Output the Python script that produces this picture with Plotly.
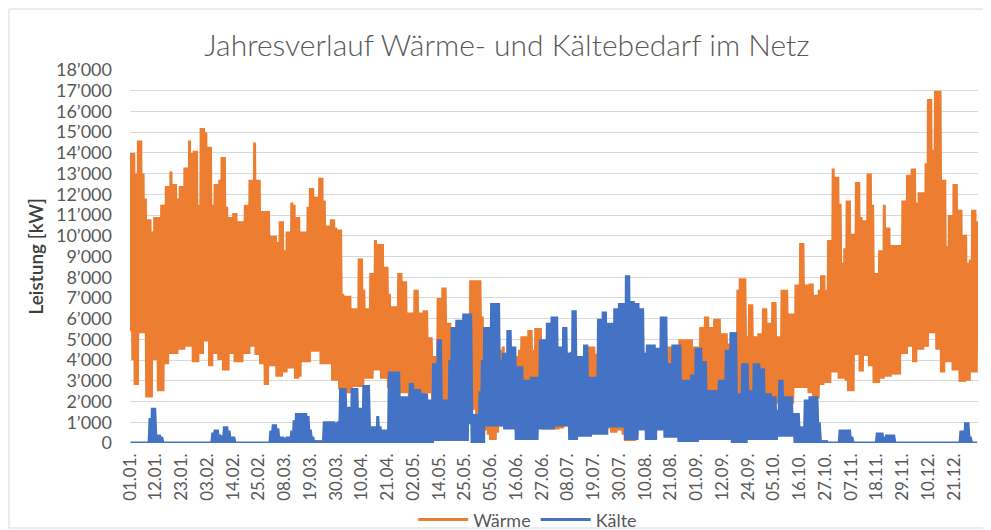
import plotly.graph_objects as go

# ---- data: daily extremes (kW), index = day of year (0 = 01.01.) ----
waerme_max = [
    14000,14000,13000,14600,14600,13000,11800,10800,10800,10200,
    10900,10900,10900,11500,11500,12400,12400,13100,12500,12500,
    11800,12400,12400,13300,13300,14600,14000,14100,14100,11500,
    15200,15200,15000,14300,14300,11500,12500,12500,12700,13800,
    13800,11400,10900,10900,11100,11100,10700,10700,10700,11500,
    11500,12700,12700,14500,12700,12700,11200,11200,11200,11200,
    10000,10000,10000,9700,10700,10700,9300,10200,10200,11600,
    11500,10900,10900,10200,10200,10200,11400,12300,12300,11900,
    11900,12800,12800,11700,10500,10500,10800,10800,10400,10300,
    10300,7200,7100,7100,7100,6500,6500,6500,8900,8900,
    7400,6500,6500,8200,8200,9800,9600,9600,9600,8500,
    8500,7200,6600,6600,6600,8200,8200,7800,7800,6300,
    6300,6300,7400,7400,6300,6300,6400,6400,5100,5100,
    4200,4200,7000,7000,7500,7500,5800,5800,5600,5000,
    4500,4500,4500,4000,4000,4000,7850,7850,7850,7850,
    7850,6100,4500,4200,4200,4000,4000,4300,4300,4500,
    4650,4300,4000,4000,4000,4200,4200,4500,5150,5150,
    5150,5450,5450,4500,5550,5550,5550,4800,4800,4500,
    4500,4600,4600,4300,4300,4500,4500,4200,4200,4400,
    4400,4000,4000,4200,4200,4400,4650,4650,4650,4650,
    4300,4000,4000,4000,4000,4200,4200,4000,4000,4000,
    4000,3800,3800,3800,3500,3500,3500,3500,3500,3500,
    3500,3800,3800,4000,4000,4000,4000,4200,4200,4300,
    4500,4650,4650,4500,4500,4500,5000,5000,5000,5000,
    5000,5000,4650,4650,4650,5600,5600,6100,6100,5600,
    5600,6000,6000,6000,5300,5300,5300,4800,4800,4800,
    4800,7400,7950,7950,7950,5150,6700,6700,5150,5150,
    5300,5300,6500,6500,5800,5800,6800,6800,5150,5150,
    7400,7400,7400,6250,6250,6250,7650,7650,9650,9650,
    7650,7650,7700,7700,7150,7150,7400,8100,8100,7400,
    9800,9800,13250,12850,12850,11550,8700,9400,11700,11700,
    10100,10100,12600,12600,10900,10750,10750,13000,13000,11500,
    8200,8200,9300,9300,11500,10400,10400,9550,9550,9550,
    9550,9550,11700,11700,12950,12950,13250,13250,11600,12100,
    12100,12100,13500,16600,16600,14150,17000,17000,17000,12700,
    12700,9500,11000,11000,12500,12500,11250,11250,10050,10050,
    8700,8850,11250,11250,10700,
]

waerme_min = [
    5400,4000,2800,2800,5300,5300,5300,2200,2200,2200,
    4000,4000,2500,2500,2500,3800,3800,4300,4300,4300,
    4300,4500,4500,4500,4650,4650,4650,3900,3900,3900,
    4300,4300,4900,4900,3700,3700,4300,4300,4000,4000,
    3500,3500,3500,4300,4300,3900,3900,3900,3900,4300,
    4300,4300,4650,4650,4250,4250,3800,3800,2800,2800,
    3700,3700,3700,3200,3200,3200,3400,3400,3600,3600,
    3600,3100,3100,3200,3900,3900,3900,3900,4400,4400,
    4400,4400,3800,3800,3800,3800,3800,3000,3000,3000,
    2600,2600,2600,2400,2400,2400,2700,2700,2700,2700,
    2700,3100,3100,3100,3100,3500,3500,3500,3100,3100,
    3100,2650,2650,2650,2650,2650,2400,2400,2400,2400,
    2250,2250,2250,2250,1900,1900,1900,2400,2400,2400,
    2000,1000,1000,1000,1000,1200,1600,1600,1600,650,
    650,650,650,600,650,650,1600,1600,1600,900,
    900,700,700,600,400,150,150,150,500,800,
    800,800,800,800,800,900,900,1000,1000,900,
    900,1000,1000,900,900,800,800,700,650,650,
    650,650,650,650,650,700,700,800,800,800,
    800,800,800,800,800,800,800,800,800,800,
    800,800,650,650,650,650,700,500,500,500,
    600,600,400,100,100,100,100,100,300,1100,
    1000,800,800,800,800,800,800,800,800,1000,
    1000,1000,1000,1100,1100,1200,1200,1200,1200,1200,
    1200,1200,1200,1200,1200,1500,1500,1500,1500,1500,
    1500,1500,1500,1500,1500,1500,1500,1500,1500,1500,
    1500,1500,1500,1500,1500,1500,1500,1500,1500,1700,
    1700,1700,1700,1700,1700,1700,1900,1900,1900,1900,
    1900,1900,1900,1900,1900,1900,2650,2650,2650,2650,
    2650,2650,2400,2400,2150,2150,2150,2800,2800,2900,
    2900,2900,3400,3400,3400,3100,3100,3100,3000,2500,
    2500,2500,4250,4250,3450,3450,4200,4200,3700,3700,
    2900,2900,2900,3100,3100,3200,3200,3200,3300,3300,
    3300,3300,4300,4300,4300,4650,4650,3900,3900,4500,
    4500,4500,4650,4650,5300,5300,5300,4500,4500,3400,
    3400,3900,3900,3900,3500,3500,3500,2950,2950,2950,
    3000,3000,3400,3400,3400,
]

kaelte_max = [
    0,0,0,0,0,0,0,0,1200,1700,
    1700,400,400,300,0,0,0,0,0,0,
    0,0,0,0,0,0,0,0,0,0,
    0,0,0,0,0,500,650,650,400,350,
    800,800,600,300,300,0,0,0,0,0,
    0,0,0,0,0,0,0,0,0,0,
    600,900,900,700,300,300,250,300,300,600,
    1100,1450,1450,1450,1450,1450,1300,650,300,100,
    100,100,100,1050,1050,1050,1050,1050,1000,1050,
    2650,2650,2650,1750,1750,2650,2650,2650,1700,1700,
    2800,2800,2800,800,800,800,1300,800,650,650,
    650,3450,3450,3450,3450,3450,2250,2250,2250,2250,
    2900,2900,2600,2600,2600,2400,2400,2400,2100,2100,
    3850,3850,5000,5000,2100,2100,2100,4000,5600,5600,
    5950,5950,5950,6250,6250,6250,6250,1400,1400,1400,
    2500,4000,5600,5600,5600,6750,6750,6750,6750,4000,
    4350,4350,5450,5450,4650,4650,3700,3700,3700,3050,
    3050,3050,3200,3200,3200,3200,5000,5000,5000,5800,
    5800,6100,6100,6100,4650,4650,5600,5600,4350,4350,
    6400,6400,4200,4200,4200,4750,4750,3200,3200,3200,
    3200,6000,6000,6350,6350,5800,5800,5800,6500,6500,
    6750,6750,6750,8100,8100,6850,6850,6750,6750,6500,
    6500,4350,4750,4750,4750,4750,4600,4600,6100,6100,
    6100,3850,3850,4750,4750,4750,4750,3050,3050,3050,
    3050,3300,3300,4600,4600,4600,3950,3950,2550,2550,
    2550,2550,2550,3050,3050,3050,4500,4500,5350,5350,
    5350,2400,2400,3850,3850,3850,2550,2550,3850,3850,
    3850,3600,3600,2400,2400,2400,2250,2250,1600,3050,
    3050,2250,2250,2250,2250,1450,1450,1450,800,800,
    2100,2100,2250,2250,2250,2250,1000,100,100,100,
    0,0,0,0,0,650,650,650,650,650,
    300,0,0,0,0,0,0,0,0,0,
    0,500,500,500,300,400,400,400,400,0,
    0,0,0,0,0,0,0,0,0,0,
    0,0,0,0,0,0,0,0,0,0,
    0,0,0,0,0,0,0,600,600,1000,
    1000,300,0,0,0,
]

kaelte_min = [
    0,0,0,0,0,0,0,0,0,0,
    0,0,0,0,0,0,0,0,0,0,
    0,0,0,0,0,0,0,0,0,0,
    0,0,0,0,0,0,0,0,0,0,
    0,0,0,0,0,0,0,0,0,0,
    0,0,0,0,0,0,0,0,0,0,
    0,0,0,0,0,0,0,0,0,0,
    0,0,0,0,0,0,0,0,0,0,
    0,0,0,0,0,0,0,0,0,0,
    0,0,0,0,0,0,0,0,0,0,
    0,0,0,0,0,0,0,0,0,0,
    0,0,0,0,0,0,0,0,0,0,
    0,0,0,0,0,0,0,0,0,0,
    0,100,100,100,100,100,100,100,100,100,
    100,100,100,100,100,100,900,0,0,0,
    0,0,0,800,800,800,800,800,800,800,
    800,650,650,650,650,650,150,150,150,150,
    150,150,150,150,150,150,650,650,650,650,
    650,650,650,800,800,800,800,800,800,150,
    150,150,150,300,300,300,300,300,300,400,
    400,400,400,400,400,400,750,750,750,750,
    750,750,750,150,150,150,150,150,150,600,
    600,600,150,150,150,150,150,600,600,600,
    250,250,250,250,250,250,50,50,50,50,
    50,50,50,50,50,150,150,150,150,150,
    150,150,150,150,150,150,150,150,150,0,
    0,0,0,0,0,0,150,150,150,150,
    150,150,150,150,150,150,150,150,150,300,
    300,300,300,300,300,300,0,0,0,0,
    0,0,0,0,0,0,0,0,0,0,
    0,0,0,0,0,0,0,0,0,0,
    0,0,0,0,0,0,0,0,0,0,
    0,0,0,0,0,0,0,0,0,0,
    0,0,0,0,0,0,0,0,0,0,
    0,0,0,0,0,0,0,0,0,0,
    0,0,0,0,0,0,0,0,0,0,
    0,0,0,0,0,
]

tick_labels = [
    "01.01.", "12.01.", "23.01.", "03.02.", "14.02.", "25.02.", "08.03.", "19.03.",
    "30.03.", "10.04.", "21.04.", "02.05.", "14.05.", "25.05.", "05.06.", "16.06.",
    "27.06.", "08.07.", "19.07.", "30.07.", "10.08.", "21.08.", "01.09.", "12.09.",
    "24.09.", "05.10.", "16.10.", "27.10.", "07.11.", "18.11.", "29.11.", "10.12.",
    "21.12.",
]
y_ticks = list(range(0, 18001, 1000))
y_tick_text = [f"{v:,}".replace(",", "\u2019") for v in y_ticks]

HOURS_PER_LABEL = 266  # category-axis label interval (hourly data)


def daily_zigzag(lows, highs):
    xs, ys = [], []
    for d, (lo, hi) in enumerate(zip(lows, highs)):
        xs += [24 * d + 5, 24 * d + 15]
        ys += [lo, hi]
    return xs, ys


wx, wy = daily_zigzag(waerme_min, waerme_max)
kx, ky = daily_zigzag(kaelte_min, kaelte_max)

FONT = "Lato"
GREY = "#595959"

fig = go.Figure()
fig.add_trace(go.Scatter(x=wx, y=wy, mode="lines", name="Wärme",
                         line=dict(color="#ED7D31", width=3)))
fig.add_trace(go.Scatter(x=kx, y=ky, mode="lines", name="Kälte",
                         line=dict(color="#4472C4", width=3)))

# the page body adds an 8px offset, so the figure is 8px smaller and shifted
fig.update_layout(
    width=983, height=522,
    margin=dict(l=122, r=13, t=62, b=87, autoexpand=False),
    paper_bgcolor="white", plot_bgcolor="white",
    title=dict(text="Jahresverlauf Wärme- und Kältebedarf im Netz",
               x=0.5076, xanchor="center", y=0.929, yanchor="middle",
               font=dict(family=FONT, size=30, color=GREY, weight=300)),
    font=dict(family=FONT, color=GREY),
    showlegend=True,
    legend=dict(orientation="h", x=0.469, xanchor="center", y=-0.206, yanchor="middle",
                font=dict(family=FONT, size=18, color=GREY), itemwidth=50,
                bgcolor="rgba(0,0,0,0)"),
    xaxis=dict(range=[0, 8759], tickmode="array", automargin=False,
               tickvals=[i * HOURS_PER_LABEL for i in range(len(tick_labels))],
               ticktext=tick_labels, tickangle=-90, showgrid=False, zeroline=False,
               showline=False, ticks="", ticklabelstandoff=6,
               tickfont=dict(family=FONT, size=17, color=GREY)),
    yaxis=dict(range=[0, 18000], tickmode="array", tickvals=y_ticks, ticktext=y_tick_text,
               automargin=False,
               showgrid=True, gridcolor="#D9D9D9", gridwidth=1, zeroline=False,
               showline=False, ticks="", ticklabelstandoff=17,
               tickfont=dict(family=FONT, size=18, color=GREY)),
    annotations=[dict(text="Leistung [kW]", xref="paper", yref="paper",
                      x=-0.112, y=0.5, xanchor="center", yanchor="middle",
                      textangle=-90, showarrow=False,
                      font=dict(family=FONT, size=19, color="#404040", weight=600))],
    shapes=[dict(type="rect", xref="paper", yref="paper",
                 x0=-0.1427, x1=1.0094, y0=-0.2279, y1=1.1635,
                 line=dict(color="#D9D9D9", width=1), fillcolor="rgba(0,0,0,0)",
                 layer="below")],
)

fig.write_html("out.html")
